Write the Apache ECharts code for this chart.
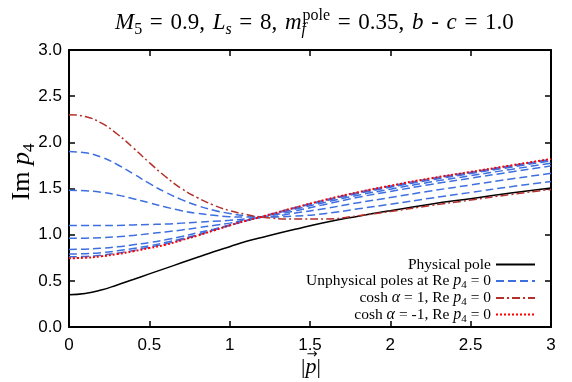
<!DOCTYPE html>
<html>
<head>
<meta charset="utf-8">
<script src="https://cdn.jsdelivr.net/npm/echarts@6.0.0/dist/echarts.min.js"></script>
<style>
  html, body { margin: 0; padding: 0; background: #fff; }
  #myChart { width: 572px; height: 382px; }
</style>
</head>
<body>
<div id="myChart"></div>
<script>
// |p| values (x axis)
var xs = [0, 0.1, 0.2, 0.3, 0.4, 0.5, 0.6, 0.7, 0.8, 0.9, 1.0, 1.1, 1.2, 1.4, 1.6, 1.8, 2.0, 2.25, 2.5, 2.75, 3.0]

// Im p4 of the physical pole
var physical = [0.35, 0.363, 0.40, 0.455, 0.515, 0.575, 0.635, 0.695, 0.755, 0.815, 0.87, 0.925, 0.97, 1.055, 1.135, 1.20, 1.26, 1.33, 1.39, 1.45, 1.505]

// unphysical poles, Re p4 = 0 (blue dashed)
var unphys1 = [1.90, 1.887, 1.84, 1.76, 1.66, 1.555, 1.46, 1.38, 1.315, 1.265, 1.23, 1.205, 1.19, 1.20, 1.23, 1.28, 1.33, 1.395, 1.457, 1.52, 1.575]
var unphys2 = [1.48, 1.475, 1.46, 1.43, 1.39, 1.345, 1.30, 1.26, 1.23, 1.21, 1.195, 1.19, 1.19, 1.233, 1.285, 1.346, 1.402, 1.473, 1.538, 1.603, 1.664]
var unphys3 = [1.10, 1.10, 1.10, 1.10, 1.105, 1.11, 1.115, 1.125, 1.135, 1.145, 1.155, 1.17, 1.19, 1.255, 1.33, 1.405, 1.468, 1.544, 1.612, 1.679, 1.745]
var unphys4 = [0.96, 0.962, 0.968, 0.978, 0.992, 1.01, 1.03, 1.05, 1.075, 1.10, 1.125, 1.16, 1.19, 1.273, 1.352, 1.427, 1.493, 1.57, 1.639, 1.707, 1.774]
var unphys5 = [0.84, 0.843, 0.852, 0.868, 0.89, 0.915, 0.945, 0.98, 1.02, 1.06, 1.105, 1.15, 1.192, 1.283, 1.368, 1.445, 1.514, 1.592, 1.662, 1.731, 1.80]
var unphys6 = [0.79, 0.794, 0.805, 0.825, 0.85, 0.88, 0.915, 0.955, 1.00, 1.05, 1.10, 1.15, 1.193, 1.287, 1.374, 1.453, 1.522, 1.602, 1.671, 1.741, 1.81]
var unphys7 = [0.76, 0.764, 0.777, 0.80, 0.828, 0.865, 0.90, 0.945, 0.995, 1.05, 1.102, 1.15, 1.194, 1.289, 1.378, 1.458, 1.527, 1.607, 1.677, 1.747, 1.817]

// cosh alpha = 1 and cosh alpha = -1
var coshP1 = [2.30, 2.28, 2.21, 2.09, 1.94, 1.78, 1.63, 1.50, 1.40, 1.32, 1.26, 1.22, 1.19, 1.17, 1.17, 1.205, 1.25, 1.315, 1.375, 1.435, 1.49]
var coshM1 = [0.745, 0.75, 0.765, 0.79, 0.82, 0.855, 0.89, 0.94, 0.99, 1.045, 1.10, 1.15, 1.195, 1.29, 1.38, 1.46, 1.53, 1.61, 1.68, 1.75, 1.82]

var xTicks = [0, 0.5, 1, 1.5, 2, 2.5, 3]
var yTicks = ['0.0', '0.5', '1.0', '1.5', '2.0', '2.5', '3.0']

var SERIF = 'Liberation Serif'
var SANS = 'Liberation Sans'

function pairs (ys) {
  return xs.map(function (x, i) { return [x, ys[i]] })
}

var NAME_PHYS = 'Physical pole'
var NAME_UNPHYS = 'Unphysical poles at Re p4 = 0'
var NAME_P1 = 'cosh α = 1, Re p4 = 0'
var NAME_M1 = 'cosh α = -1, Re p4 = 0'

// legend text as rich strings
var legendText = {}
legendText[NAME_PHYS] = 'Physical pole'
legendText[NAME_UNPHYS] = 'Unphysical poles at Re {i|p}{s|4} = 0'
legendText[NAME_P1] = 'cosh {i|α} = 1, Re {i|p}{s|4} = 0'
legendText[NAME_M1] = 'cosh {i|α} = -1, Re {i|p}{s|4} = 0'

var legendRich = {
  i: { fontFamily: SERIF, fontStyle: 'italic', fontSize: 16, lineHeight: 20, color: '#000' },
  s: { fontFamily: SERIF, fontSize: 11, lineHeight: 10, verticalAlign: 'bottom', color: '#000' }
}

function makeLegend (name, centerY) {
  return {
    data: [name],
    orient: 'vertical',
    right: 36,
    top: centerY - 10,
    align: 'right',
    itemWidth: 39,
    itemHeight: 10,
    padding: 0,
    selectedMode: false,
    // hide the symbol, keep only the line sample
    itemStyle: { opacity: 0 },
    formatter: function (n) { return legendText[n] },
    textStyle: { fontFamily: SERIF, fontSize: 15.5, lineHeight: 20, color: '#000', rich: legendRich }
  }
}

var blueStyle = { color: '#3e6fe0', width: 1.5, type: [8, 4] }

function line (name, ys, style, z) {
  return {
    name: name,
    type: 'line',
    data: pairs(ys),
    smooth: true,
    symbol: 'none',
    z: z,
    itemStyle: { color: style.color },
    lineStyle: style
  }
}

var axisLine = { show: true, onZero: false, lineStyle: { color: '#000', width: 2 } }
var axisTick = { show: true, inside: true, length: 6, lineStyle: { color: '#000', width: 1.5 } }

// slightly wider spaces, like the original title
var SP = '\u2004'

var myChart = echarts.init(document.getElementById('myChart'), null, { renderer: 'canvas' })
myChart.setOption({
  animation: false,
  title: {
    text: ['{i|M}{s|5}', '=', '0.9,', '{i|L}{si|s}', '=', '8,', '{i|m}{f|f}{p|pole}', '=', '0.35,', '{i|b}', '-', '{i|c}', '=', '1.0'].join(SP),
    left: 110,
    top: 3,
    textStyle: {
      fontFamily: SERIF,
      fontSize: 23,
      fontWeight: 'normal',
      color: '#000',
      lineHeight: 30,
      rich: {
        i: { fontFamily: SERIF, fontStyle: 'italic', fontSize: 23, lineHeight: 30, color: '#000' },
        s: { fontFamily: SERIF, fontSize: 16, lineHeight: 13, verticalAlign: 'bottom', color: '#000' },
        si: { fontFamily: SERIF, fontStyle: 'italic', fontSize: 16, lineHeight: 13, verticalAlign: 'bottom', color: '#000' },
        f: { fontFamily: SERIF, fontStyle: 'italic', fontSize: 16, lineHeight: 13, verticalAlign: 'bottom', width: 1, color: '#000' },
        p: { fontFamily: SERIF, fontSize: 16, lineHeight: 16, verticalAlign: 'top', color: '#000' }
      }
    }
  },
  grid: { left: 69, right: 21, top: 50, bottom: 55, containLabel: false },
  legend: [
    makeLegend(NAME_PHYS, 264.5),
    makeLegend(NAME_UNPHYS, 281),
    makeLegend(NAME_P1, 298),
    makeLegend(NAME_M1, 314.5)
  ],
  xAxis: [
    {
      type: 'value', position: 'bottom', min: 0, max: 3, interval: 0.5,
      axisLine: axisLine, axisTick: axisTick, splitLine: { show: false },
      axisLabel: {
        margin: 10, color: '#000', fontFamily: SANS, fontSize: 17,
        formatter: function (v) { return xTicks.indexOf(v) >= 0 ? String(v) : '' }
      }
    },
    {
      type: 'value', position: 'top', min: 0, max: 3, interval: 0.5,
      axisLine: axisLine, axisTick: axisTick, splitLine: { show: false },
      axisLabel: { show: false }
    }
  ],
  yAxis: [
    {
      type: 'value', position: 'left', min: 0, max: 3, interval: 0.5,
      axisLine: axisLine, axisTick: axisTick, splitLine: { show: false },
      axisLabel: {
        margin: 7, color: '#000', fontFamily: SANS, fontSize: 17,
        formatter: function (v) { return yTicks[Math.round(v * 2)] }
      }
    },
    {
      type: 'value', position: 'right', min: 0, max: 3, interval: 0.5,
      axisLine: axisLine, axisTick: axisTick, splitLine: { show: false },
      axisLabel: { show: false }
    }
  ],
  graphic: [
    {
      // y axis name: Im p4
      type: 'text', x: 22, y: 172, rotation: Math.PI / 2,
      style: {
        text: 'Im {i|p}{s|4}',
        fontFamily: SERIF, fontSize: 26, fill: '#000',
        align: 'center', verticalAlign: 'middle',
        rich: {
          i: { fontFamily: SERIF, fontStyle: 'italic', fontSize: 26, lineHeight: 32, fill: '#000' },
          s: { fontFamily: SERIF, fontSize: 17, lineHeight: 14, verticalAlign: 'bottom', fill: '#000' }
        }
      }
    },
    {
      // x axis name: |p| with arrow
      type: 'text', x: 311, y: 367,
      style: {
        text: '|{i|p}|',
        fontFamily: SERIF, fontSize: 22, fill: '#000',
        align: 'center', verticalAlign: 'middle',
        rich: { i: { fontFamily: SERIF, fontStyle: 'italic', fontSize: 22, fill: '#000' } }
      }
    },
    {
      type: 'text', x: 312, y: 355,
      style: { text: '→', fontFamily: 'DejaVu Sans', fontSize: 13, fill: '#000', align: 'center', verticalAlign: 'middle' }
    }
  ],
  series: [
    line(NAME_PHYS, physical, { color: '#000', width: 1.5, type: 'solid' }, 2),
    line(NAME_UNPHYS, unphys1, blueStyle, 3),
    line(NAME_UNPHYS, unphys2, blueStyle, 3),
    line(NAME_UNPHYS, unphys3, blueStyle, 3),
    line(NAME_UNPHYS, unphys4, blueStyle, 3),
    line(NAME_UNPHYS, unphys5, blueStyle, 3),
    line(NAME_UNPHYS, unphys6, blueStyle, 3),
    line(NAME_UNPHYS, unphys7, blueStyle, 3),
    line(NAME_P1, coshP1, { color: '#b3302c', width: 1.5, type: [8, 3, 2, 3] }, 4),
    line(NAME_M1, coshM1, { color: '#ff0000', width: 2, type: [2, 2] }, 5)
  ]
})
</script>
</body>
</html>
